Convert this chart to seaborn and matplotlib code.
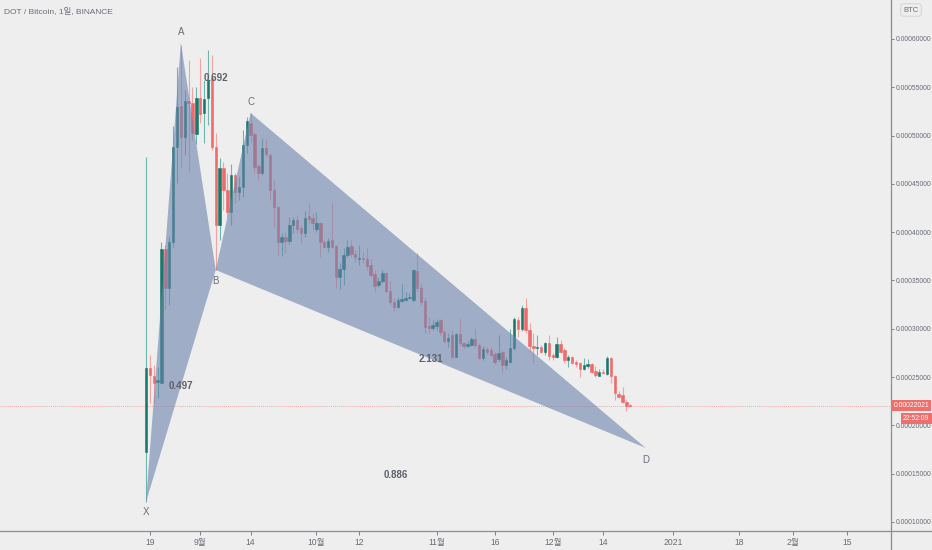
import pandas as pd
import numpy as np
import matplotlib
matplotlib.use("Agg")
import matplotlib.pyplot as plt
import matplotlib.dates as mdates
from matplotlib.lines import Line2D
import seaborn as sns

# daily DOT/BTC candles, values in satoshi (1e-8 BTC)
start_date = "2020-08-18"
opens = [17250, 25970, 25110, 24490, 24420, 38260, 34220, 38990, 48820, 53060,
         49860, 53580, 53370, 50170, 53890, 52340, 53890, 55960, 48820, 40750,
         46650, 44370, 42090, 45920, 44160, 44680, 49030, 51300, 50170, 46850,
         46130, 48720, 47990, 44370, 42610, 38990, 39500, 39090, 40750, 41260,
         40430, 39920, 41680, 41470, 40330, 40950, 38990, 38470, 39190, 38570,
         35360, 36190, 37640, 38570, 37740, 37230, 37330, 37230, 36600, 35670,
         34530, 34950, 35780, 33910, 32770, 32260, 32880, 32980, 33190, 32980,
         35980, 34220, 32880, 30290, 30080, 30290, 30910, 29670, 28740, 29360,
         27080, 29460, 28530, 28220, 28320, 28940, 28320, 26980, 27910, 27810,
         27390, 26870, 27600, 26250, 26560, 28010, 30910, 29980, 32150, 29880,
         28220, 28010, 28120, 27600, 28530, 27290, 27080, 28430, 27810, 26770,
         27080, 26560, 26460, 25840, 26150, 26360, 25630, 25110, 25530, 25320,
         26980, 25110, 23250, 23150, 22420, 22110]
highs = [47780, 27290, 26250, 26050, 39020, 38680, 39500, 50990, 57100, 59380,
         54720, 57830, 55030, 55030, 58030, 55760, 58860, 58340, 50270, 47680,
         47270, 46130, 47060, 46130, 45710, 50580, 51920, 52340, 50370, 47160,
         49750, 49650, 48200, 45400, 42710, 39920, 40020, 41570, 41570, 41780,
         40750, 42190, 43020, 41990, 42090, 41060, 39190, 39400, 43020, 38680,
         36810, 38360, 39190, 39190, 38160, 38680, 37950, 38360, 37230, 36090,
         35360, 36090, 35880, 34950, 33190, 33290, 34640, 33810, 33710, 36190,
         37850, 34740, 33190, 31220, 30910, 31010, 31010, 29880, 29570, 29880,
         29570, 31120, 28630, 28740, 29150, 29980, 28530, 28220, 28120, 28120,
         27600, 29360, 27810, 27080, 29980, 31220, 31220, 32460, 33190, 30600,
         29570, 29360, 28320, 28630, 29360, 27490, 29150, 28840, 28010, 27290,
         27180, 26770, 26560, 26980, 26870, 26460, 26150, 25840, 25840, 27180,
         27080, 25220, 23560, 23980, 22630, 22210]
lows = [12070, 22320, 22320, 22840, 24390, 32050, 32460, 38470, 45090, 46650,
        47990, 46230, 49540, 49130, 51300, 49230, 51100, 48510, 36090, 39190,
        42300, 41570, 40750, 43020, 43330, 43640, 48200, 49340, 46230, 45400,
        45920, 47780, 43330, 40540, 37640, 37540, 37850, 38780, 39920, 39920,
        38880, 39500, 40850, 40230, 40020, 37430, 38360, 37950, 38360, 34220,
        34120, 34530, 37430, 37430, 36920, 36600, 36810, 36090, 35360, 33810,
        34330, 34740, 33710, 32460, 31840, 32150, 32770, 32880, 33080, 32770,
        33910, 32460, 29570, 29570, 29880, 29880, 29360, 28530, 28120, 26980,
        27050, 28320, 28010, 28120, 28220, 28120, 26870, 26770, 27390, 27180,
        26360, 26670, 25530, 25840, 26460, 27810, 29150, 29770, 29570, 27600,
        26460, 27290, 27490, 27290, 26770, 26770, 26980, 27490, 26460, 26050,
        26360, 26050, 25010, 25740, 25940, 25420, 25010, 25100, 25320, 25220,
        24390, 22630, 22840, 22320, 21490, 21950]
closes = [25940, 25220, 24390, 24700, 38260, 34220, 38990, 48820, 52960, 49860,
          53580, 53370, 50270, 53890, 52240, 53790, 55760, 48820, 40750, 46650,
          44370, 42090, 45920, 44160, 44680, 49030, 51510, 50060, 46750, 46130,
          48720, 48100, 44370, 42610, 38990, 39500, 39090, 40750, 41260, 40330,
          39920, 41470, 41370, 40950, 40950, 38990, 38470, 39090, 38470, 35360,
          36190, 37640, 38470, 37740, 37430, 37330, 37230, 36500, 35570, 34430,
          34950, 35780, 33910, 32770, 32260, 32980, 33080, 33190, 33290, 36090,
          34220, 32770, 30190, 30080, 30390, 30700, 29670, 28740, 29050, 27080,
          29460, 28530, 28220, 28430, 28940, 28320, 26980, 27910, 27600, 27290,
          26560, 27490, 26250, 26770, 28010, 31010, 29980, 32150, 29880, 28220,
          28010, 28120, 27600, 28530, 27180, 27080, 28430, 27600, 26770, 27080,
          26460, 26360, 25840, 26250, 26360, 25530, 25220, 25530, 25420, 26980,
          25110, 23350, 22940, 22420, 22010, 22021]

# XABCD pattern drawn on the chart
pattern_names = ["X", "A", "B", "C", "D"]
pattern_dates = ["2020-08-18", "2020-08-27", "2020-09-05", "2020-09-14", "2020-12-25"]
pattern_prices = [12070, 59590, 36090, 52340, 17660]
ratio_labels = ["0.497", "0.692", "2.131", "0.886"]
ratio_pairs = [("X", "B"), ("A", "C"), ("B", "D"), ("X", "D")]

last_price = 22021
countdown = "22:52:09"
tick_dates = ["2020-08-19", "2020-09-01", "2020-09-14", "2020-10-01", "2020-10-12",
              "2020-11-01", "2020-11-16", "2020-12-01", "2020-12-14", "2021-01-01",
              "2021-01-18", "2021-02-01", "2021-02-15"]
tick_labels = ["19", "9월", "14", "10월", "12", "11월", "16", "12월", "14", "2021",
               "18", "2월", "15"]
y_ticks = [10000, 15000, 20000, 25000, 30000, 35000, 40000, 45000, 50000, 55000, 60000]

SAT = 1e-8
BG = "#eeeeee"
UP, DOWN = "#18786c", "#ef6a68"
UP_WICK, DOWN_WICK = "#6fb7ad", "#f3a3a1"
GRAY = "#6a6d78"

sns.set_theme(style="white", rc={"axes.facecolor": BG, "figure.facecolor": BG})
plt.rcParams["font.family"] = ["Liberation Sans", "Noto Sans CJK KR", "DejaVu Sans"]

df = pd.DataFrame({"open": opens, "high": highs, "low": lows, "close": closes})
df["date"] = pd.date_range(start_date, periods=len(df), freq="D")
df[["open", "high", "low", "close"]] *= SAT
df["up"] = df["close"] >= df["open"]
x = mdates.date2num(df["date"])

fig = plt.figure(figsize=(9.32, 5.5), dpi=100)
ax = fig.add_axes([0, 19 / 550, 891 / 932, 531 / 550])

# wicks and bodies
ax.vlines(x, df["low"], df["high"], colors=np.where(df["up"], UP_WICK, DOWN_WICK),
          linewidth=0.8, zorder=2)
body_lo = df[["open", "close"]].min(axis=1)
body_h = (df["close"] - df["open"]).abs()
cols = np.where(df["up"], UP, DOWN)
ax.bar(x, body_h, bottom=body_lo, width=0.62, color=cols, edgecolor=cols,
       linewidth=0.4, zorder=3)

# current price line
ax.axhline(last_price * SAT, color="#f2aaa8", lw=0.7, ls=(0, (1, 1)), zorder=1)

# harmonic pattern triangles
pts = {n: (mdates.date2num(pd.Timestamp(d)), p * SAT)
       for n, d, p in zip(pattern_names, pattern_dates, pattern_prices)}
for tri in [("X", "A", "B"), ("B", "C", "D")]:
    ax.fill([pts[n][0] for n in tri], [pts[n][1] for n in tri],
            color="#6c83ad", alpha=0.6, lw=0, zorder=4)

offsets = {"X": -7, "A": 8, "B": -8, "C": 8, "D": -9}
for n in pattern_names:
    ax.annotate(n, pts[n], xytext=(0, offsets[n]), textcoords="offset points",
                ha="center", va="center", fontsize=7, color=GRAY, zorder=6)
for lab, (a, b) in zip(ratio_labels, ratio_pairs):
    mx = (pts[a][0] + pts[b][0]) / 2
    my = (pts[a][1] + pts[b][1]) / 2
    ax.text(mx, my, lab, ha="center", va="center", fontsize=7, color="#5d606a",
            fontweight="bold", zorder=6)

# axes limits and ticks
d0 = mdates.date2num(pd.Timestamp(start_date))
ax.set_xlim(d0 - 146 / 3.874, d0 + 745 / 3.874)
ax.set_ylim(9067 * SAT, 64037 * SAT)

ax.set_xticks(mdates.date2num(pd.to_datetime(tick_dates)))
ax.set_xticklabels(tick_labels)
ax.set_yticks([v * SAT for v in y_ticks])
ax.set_yticklabels([f"{v * SAT:.8f}" for v in y_ticks])
ax.yaxis.tick_right()
ax.tick_params(axis="x", labelsize=6.2, colors=GRAY, length=3, width=0.6,
               direction="out", pad=2, bottom=True)
ax.tick_params(axis="y", labelsize=4.9, colors=GRAY, length=2.5, width=0.6,
               direction="out", pad=1, right=True)

for side in ["top", "left"]:
    ax.spines[side].set_visible(False)
for side in ["right", "bottom"]:
    ax.spines[side].set_color("#8a8d96")
    ax.spines[side].set_linewidth(0.9)
fig.add_artist(Line2D([891 / 932, 1], [19 / 550, 19 / 550], color="#8a8d96", lw=0.9))
fig.add_artist(Line2D([891 / 932, 891 / 932], [0, 19 / 550], color="#8a8d96", lw=0.9))

# last price tags on the price scale
trans = ax.get_yaxis_transform()
ax.text(1 + 2.5 / 891, last_price * SAT, f"{last_price * SAT:.8f}", transform=trans,
        ha="left", va="center", fontsize=4.9, color="white", clip_on=False, zorder=7,
        bbox=dict(boxstyle="square,pad=0.3", fc="#ef6f6c", ec="none"))
ax.text(1 + 38.5 / 891, last_price * SAT - 1300 * SAT, countdown, transform=trans,
        ha="right", va="center", fontsize=4.9, color="white", clip_on=False, zorder=7,
        bbox=dict(boxstyle="square,pad=0.3", fc="#ef6f6c", ec="none"))

fig.text(911 / 932, 1 - 10 / 550, "BTC", ha="center", va="center", fontsize=5.5,
         color=GRAY, bbox=dict(boxstyle="round,pad=0.35", fc=BG, ec="#cfd0d4", lw=0.6))
fig.text(4 / 932, 1 - 12 / 550, "DOT / Bitcoin, 1일, BINANCE", ha="left", va="center",
         fontsize=6, color=GRAY)

fig.savefig("out.png", dpi=100, facecolor=BG)
